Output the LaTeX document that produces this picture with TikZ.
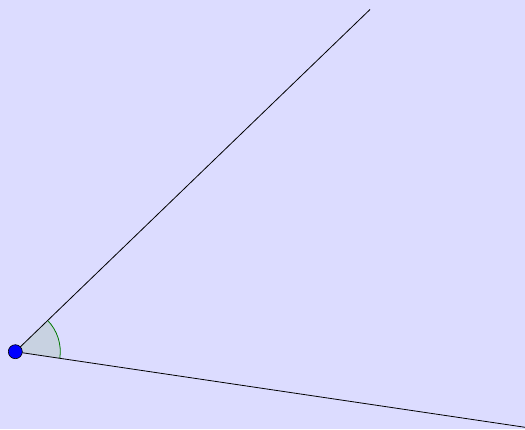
\documentclass[tikz,border=0pt]{standalone}
\usetikzlibrary{calc}
\definecolor{bg}{RGB}{220,220,255}
\definecolor{anglefill}{RGB}{200,210,225}
\definecolor{arcgreen}{RGB}{0,120,0}
\begin{document}
\begin{tikzpicture}[x=1pt,y=-1pt,
  ray/.style={black,line width=0.8pt},
  ptstyle/.style={circle,fill=blue,draw=black,line width=0.6pt,inner sep=0pt,minimum size=14pt}]
\fill[bg] (0,0) rectangle (525,429);
\useasboundingbox (0,0) rectangle (525,429);
\coordinate (A) at (15.3,351.7);
\coordinate (B) at (370,9.5);
\coordinate (C) at (540,429.5);
\fill[anglefill] (A) -- ++(8.4:45) arc[start angle=8.4,end angle=-44,radius=45] -- cycle;
\draw[arcgreen,line width=0.8pt] ($(A)+(8.4:45)$) arc[start angle=8.4,end angle=-44,radius=45];
\draw[ray] (A) -- (B);
\draw[ray] (A) -- (C);
\node[ptstyle] (P) at (A) {};
\end{tikzpicture}
\end{document}
